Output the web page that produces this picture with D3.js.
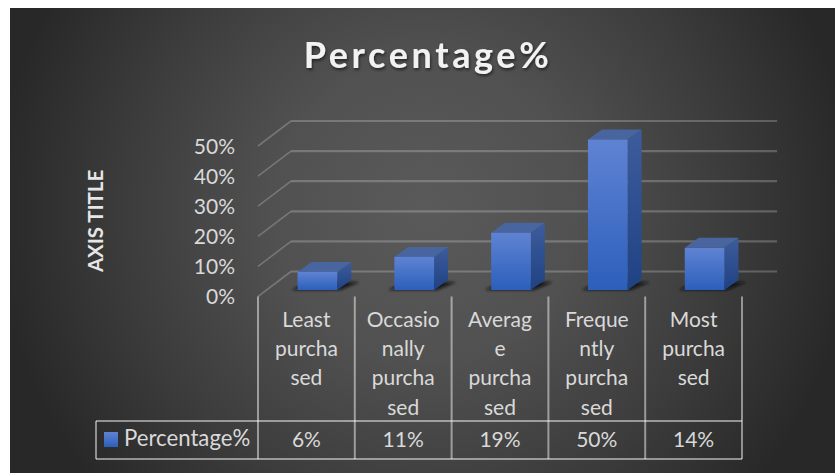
<!DOCTYPE html>
<html>
<head>
<meta charset="utf-8">
<script src="https://cdn.jsdelivr.net/npm/d3@7"></script>
<style>
html,body{margin:0;padding:0;background:#fff;overflow:hidden}
svg{display:block}
text{font-family:Lato,"Open Sans",sans-serif}
</style>
</head>
<body>
<svg id="chart" width="835" height="473"></svg>
<script>
const chartTitle = "Percentage%";
const axisTitle = "AXIS TITLE";
const seriesName = "Percentage%";
const categories = ["Least purchased","Occasionally purchased","Average purchased","Frequently purchased","Most purchased"];
const categoryLines = [["Least","purcha","sed"],["Occasio","nally","purcha","sed"],["Averag","e","purcha","sed"],["Freque","ntly","purcha","sed"],["Most","purcha","sed"]];
const values = [0.06,0.11,0.19,0.50,0.14];
const yTicks = [0,0.1,0.2,0.3,0.4,0.5];

const svg = d3.select("#chart");
const defs = svg.append("defs");

function linear(id, stops){
  const g = defs.append("linearGradient").attr("id",id).attr("x1",0).attr("y1",0).attr("x2",0).attr("y2",1);
  stops.forEach(([o,c])=>g.append("stop").attr("offset",o).attr("stop-color",c));
}
linear("front",[[0,"#5f83d3"],[1,"#2c5fbb"]]);
linear("side",[[0,"#3d5c9c"],[1,"#1f4283"]]);
const bgGrad = defs.append("radialGradient").attr("id","bg").attr("gradientUnits","userSpaceOnUse")
  .attr("cx",425).attr("cy",210).attr("r",430);
[[0,"#5a5a5a"],[0.35,"#515151"],[0.7,"#3c3c3c"],[1,"#282828"]].forEach(([o,c])=>bgGrad.append("stop").attr("offset",o).attr("stop-color",c));
defs.append("filter").attr("id","blur").attr("x","-30%").attr("y","-60%").attr("width","160%").attr("height","220%")
  .append("feGaussianBlur").attr("stdDeviation",1.6);
const ts = defs.append("filter").attr("id","titleShadow").attr("x","-10%").attr("y","-20%").attr("width","120%").attr("height","150%");
ts.append("feDropShadow").attr("dx",1).attr("dy",2).attr("stdDeviation",1.5).attr("flood-color","#000").attr("flood-opacity",0.55);

svg.append("rect").attr("x",10).attr("y",8).attr("width",825).attr("height",465).attr("fill","url(#bg)");

// scales
const x = d3.scaleBand().domain(categories).range([258,742]).paddingInner(0.59).paddingOuter(0.295);
const y = d3.scaleLinear().domain([0,0.5]).range([296.5,146]);

// layout of the oblique projection
const wall = {dx:33, dy:25, right:777};
const bar = {dx:11, dy:6.5, sideDx:14, sideDy:10};
const step = x.step();
const left = x.range()[0];
const edges = d3.range(categories.length+1).map(i=>left+i*step);

// gridlines: side wall + back wall
const grid = svg.append("g").attr("fill","none").attr("stroke","#fff").attr("stroke-opacity",0.22);
grid.selectAll(".back").data(yTicks).join("line").attr("class","back")
  .attr("x1",left+wall.dx).attr("x2",wall.right)
  .attr("y1",d=>y(d)-wall.dy).attr("y2",d=>y(d)-wall.dy).attr("stroke-width",2.2);
grid.selectAll(".wall").data(yTicks).join("line").attr("class","wall")
  .attr("x1",left).attr("x2",left+wall.dx)
  .attr("y1",d=>y(d)).attr("y2",d=>y(d)-wall.dy).attr("stroke-width",1.6);

// bars
const bars = svg.selectAll(".bar").data(categories.map((c,i)=>({c,v:values[i]}))).join("g").attr("class","bar");
const X0 = d=>x(d.c)+bar.dx, X1 = d=>X0(d)+x.bandwidth();
const Y0 = ()=>y(0)-bar.dy, YT = d=>y(d.v)-bar.dy;
bars.append("polygon").attr("filter","url(#blur)").attr("fill","#0c0c0c").attr("fill-opacity",0.9)
  .attr("points",d=>[[X0(d)-6,Y0()],[X1(d)+3,Y0()],[X1(d)+22,Y0()-8],[X0(d)+10,Y0()-8]].join(" "));
bars.append("polygon").attr("fill","url(#side)")
  .attr("points",d=>[[X1(d),YT(d)],[X1(d)+bar.sideDx,YT(d)-bar.sideDy],[X1(d)+bar.sideDx,Y0()-bar.sideDy],[X1(d),Y0()]].join(" "));
bars.append("polygon").attr("fill","#48659f")
  .attr("points",d=>[[X0(d),YT(d)],[X0(d)+bar.sideDx,YT(d)-bar.sideDy],[X1(d)+bar.sideDx,YT(d)-bar.sideDy],[X1(d),YT(d)]].join(" "));
bars.append("rect").attr("fill","url(#front)")
  .attr("x",X0).attr("y",YT).attr("width",x.bandwidth()).attr("height",d=>Y0()-YT(d));

// y axis
const yAxis = svg.append("g").attr("transform",`translate(${left},0)`)
  .call(d3.axisLeft(y).tickValues(yTicks).tickFormat(d3.format(".0%")).tickSize(0).tickPadding(23));
yAxis.select(".domain").remove();
yAxis.selectAll("text").attr("font-family","Lato").attr("font-size",21).attr("fill","#d9d9d9").attr("dy","0.35em");

// data table
const tableTop = 421, tableBottom = 459, tableLeft = 96, axisTop = 296.5;
const t = svg.append("g").attr("stroke","#fff").attr("stroke-opacity",0.48).attr("stroke-width",2);
t.selectAll(".v").data(edges).join("line").attr("class","v")
  .attr("x1",d=>d).attr("x2",d=>d).attr("y1",axisTop).attr("y2",tableBottom);
[tableTop,tableBottom].forEach(v=>t.append("line").attr("x1",tableLeft).attr("x2",edges[edges.length-1]).attr("y1",v).attr("y2",v));
t.append("line").attr("x1",tableLeft).attr("x2",tableLeft).attr("y1",tableTop).attr("y2",tableBottom);

const textColor = "#d9d9d9";
const labels = svg.selectAll(".cat").data(categories.map((c,i)=>({c,lines:categoryLines[i]}))).join("text")
  .attr("class","cat").attr("text-anchor","middle").attr("font-size",21).attr("fill",textColor)
  .attr("transform",d=>`translate(${x(d.c)+x.bandwidth()/2},327)`);
labels.selectAll("tspan").data(d=>d.lines).join("tspan").attr("x",0).attr("y",(d,i)=>i*29.2).text(d=>d);

svg.selectAll(".val").data(categories.map((c,i)=>({c,v:values[i]}))).join("text")
  .attr("class","val").attr("text-anchor","middle").attr("font-size",21).attr("fill",textColor)
  .attr("x",d=>x(d.c)+x.bandwidth()/2).attr("y",447).text(d=>d3.format(".0%")(d.v));

svg.append("rect").attr("x",104).attr("y",432).attr("width",14).attr("height",15).attr("fill","url(#front)");
svg.append("text").attr("x",124).attr("y",446).attr("font-size",22.2).attr("fill",textColor).text(seriesName);

// titles
svg.append("text").attr("x",428).attr("y",68).attr("text-anchor","middle").attr("font-size",36).attr("font-weight",700)
  .attr("letter-spacing",3.6).attr("fill","#f2f2f2").attr("filter","url(#titleShadow)").text(chartTitle);
svg.append("text").attr("transform","translate(103,221) rotate(-90)").attr("text-anchor","middle")
  .attr("font-size",20.4).attr("font-weight",700).attr("fill","#e6e6e6").text(axisTitle);
</script>
</body>
</html>
